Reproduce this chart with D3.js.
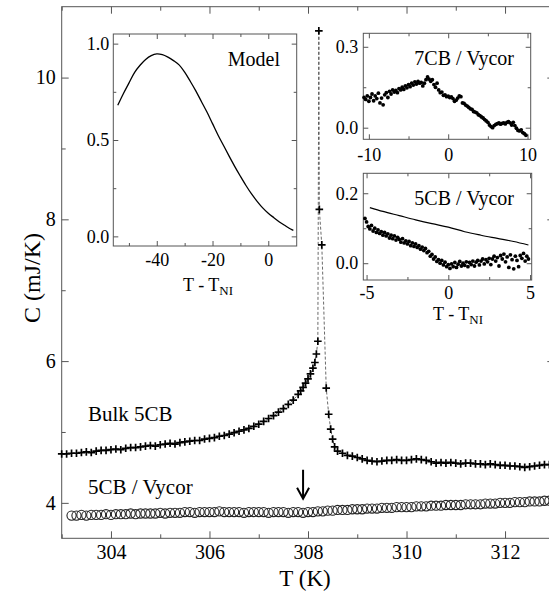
<!DOCTYPE html>
<html>
<head>
<meta charset="utf-8">
<script src="https://cdn.jsdelivr.net/npm/d3@7"></script>
<style>
  body { margin: 0; background: #fff; }
  svg text { font-family: 'Liberation Serif', 'Times New Roman', Times, 'DejaVu Serif', 'Noto Serif', serif; fill: #000; }
</style>
</head>
<body>
<svg id="chart" width="549" height="592"></svg>
<script>
// ---- main panel: bulk 5CB (crosses) ----
var bulkT = [303.0,303.1,303.2,303.3,303.4,303.5,303.6,303.7,303.8,303.9,
  304.0,304.1,304.2,304.3,304.4,304.5,304.6,304.7,304.8,304.9,
  305.0,305.1,305.2,305.3,305.4,305.5,305.6,305.7,305.8,305.9,
  306.0,306.1,306.2,306.3,306.4,306.5,306.6,306.7,306.8,306.9,
  307.0,307.1,307.2,307.3,307.4,307.5,307.6,307.7,307.8,307.85,307.9,307.95,
  308.0,308.05,308.1,308.14,308.17,308.2,308.22,308.23,308.28,
  308.37,308.42,308.46,308.5,308.54,308.6,308.7,
  308.8,308.9,309.0,309.1,309.2,309.3,309.4,309.5,309.6,309.7,309.8,309.9,
  310.0,310.1,310.2,310.3,310.4,310.5,310.6,310.7,310.8,310.9,
  311.0,311.1,311.2,311.3,311.4,311.5,311.6,311.7,311.8,311.9,
  312.0,312.1,312.2,312.3,312.4,312.5,312.6,312.7,312.8,312.9,313.0];
var bulkC = [4.69,4.69,4.70,4.70,4.71,4.72,4.71,4.73,4.74,4.74,
  4.75,4.76,4.75,4.77,4.78,4.78,4.79,4.80,4.81,4.80,
  4.82,4.83,4.84,4.83,4.85,4.86,4.87,4.88,4.88,4.90,
  4.91,4.92,4.94,4.95,4.97,4.99,5.01,5.03,5.05,5.08,
  5.11,5.15,5.19,5.23,5.28,5.33,5.39,5.45,5.53,5.58,5.63,5.69,
  5.75,5.82,5.90,5.98,6.10,6.28,10.66,8.14,7.64,
  5.62,5.25,5.04,4.90,4.79,4.73,4.70,
  4.67,4.66,4.64,4.62,4.60,4.59,4.58,4.59,4.60,4.60,4.61,4.60,
  4.60,4.61,4.62,4.61,4.60,4.58,4.56,4.57,4.56,4.57,
  4.56,4.55,4.56,4.56,4.55,4.55,4.54,4.55,4.54,4.53,
  4.53,4.52,4.52,4.51,4.50,4.51,4.52,4.53,4.54,4.54,4.53];

// ---- main panel: 5CB in Vycor (open circles) ----
var vycorT = [303.2,303.3,303.4,303.5,303.6,303.7,303.8,303.9,
  304.0,304.1,304.2,304.3,304.4,304.5,304.6,304.7,304.8,304.9,
  305.0,305.1,305.2,305.3,305.4,305.5,305.6,305.7,305.8,305.9,
  306.0,306.1,306.2,306.3,306.4,306.5,306.6,306.7,306.8,306.9,
  307.0,307.1,307.2,307.3,307.4,307.5,307.6,307.7,307.8,307.9,
  308.0,308.1,308.2,308.3,308.4,308.5,308.6,308.7,308.8,308.9,
  309.0,309.1,309.2,309.3,309.4,309.5,309.6,309.7,309.8,309.9,
  310.0,310.1,310.2,310.3,310.4,310.5,310.6,310.7,310.8,310.9,
  311.0,311.1,311.2,311.3,311.4,311.5,311.6,311.7,311.8,311.9,
  312.0,312.1,312.2,312.3,312.4,312.5,312.6,312.7,312.8,312.9,313.0];
var vycorC = [3.82,3.82,3.83,3.82,3.83,3.83,3.83,3.84,
  3.83,3.84,3.84,3.84,3.85,3.84,3.85,3.85,3.85,3.85,
  3.86,3.85,3.86,3.86,3.86,3.87,3.87,3.86,3.87,3.87,
  3.87,3.87,3.88,3.87,3.87,3.87,3.87,3.86,3.87,3.87,
  3.87,3.87,3.86,3.87,3.87,3.87,3.86,3.87,3.87,3.86,
  3.87,3.87,3.88,3.88,3.89,3.89,3.90,3.90,3.90,3.91,
  3.91,3.91,3.92,3.92,3.92,3.93,3.93,3.93,3.94,3.94,
  3.94,3.94,3.95,3.95,3.95,3.96,3.96,3.96,3.97,3.97,
  3.97,3.97,3.98,3.98,3.98,3.98,3.99,3.99,3.99,4.00,
  4.00,4.00,4.01,4.01,4.01,4.02,4.02,4.02,4.03,4.03,4.03];

// ---- inset: model curve ----
var modelT = [-54,-52,-50,-48,-46,-44,-42,-40,-38,-36,-34,-32,-30,-28,-26,-24,-22,-20,
  -18,-16,-14,-12,-10,-8,-6,-4,-2,0,2,4,6,8,9];
var modelV = [0.68,0.74,0.795,0.85,0.888,0.918,0.938,0.947,0.943,0.93,0.912,0.89,0.852,0.805,0.755,0.70,0.645,0.585,
  0.525,0.47,0.415,0.362,0.312,0.264,0.22,0.182,0.148,0.12,0.097,0.075,0.056,0.038,0.031];

// ---- inset: 7CB / Vycor ----
var cb7T = [-10.6,-10.4,-10.2,-10.0,-9.8,-9.6,-9.4,-9.2,-9.0,-8.8,-8.6,-8.4,-8.2,-8.0,
  -7.8,-7.6,-7.4,-7.2,-7.0,-6.8,-6.6,-6.4,-6.2,-6.0,-5.8,-5.6,-5.4,-5.2,-5.0,
  -4.8,-4.6,-4.4,-4.2,-4.0,-3.8,-3.6,-3.4,-3.2,-3.0,-2.8,-2.6,-2.4,-2.2,-2.0,
  -1.8,-1.6,-1.4,-1.2,-1.0,-0.8,-0.6,-0.4,-0.2,0.0,0.2,0.4,0.6,0.8,1.0,
  1.2,1.4,1.6,1.8,2.0,2.2,2.4,2.6,2.8,3.0,3.2,3.4,3.6,3.8,4.0,
  4.2,4.4,4.6,4.8,5.0,5.2,5.4,5.6,5.8,6.0,6.2,6.4,6.6,6.8,7.0,
  7.2,7.4,7.6,7.8,8.0,8.2,8.4,8.6,8.8,9.0,9.2,9.4,9.6,9.8];
var cb7V = [0.112,0.105,0.118,0.098,0.112,0.125,0.100,0.118,0.108,0.128,0.092,0.110,0.085,0.122,
  0.130,0.112,0.135,0.125,0.140,0.132,0.138,0.130,0.145,0.140,0.150,0.142,0.155,0.148,0.160,
  0.152,0.165,0.158,0.170,0.162,0.172,0.165,0.168,0.155,0.165,0.178,0.188,0.180,0.172,0.178,
  0.160,0.150,0.165,0.140,0.130,0.132,0.120,0.122,0.115,0.117,0.112,0.114,0.108,0.098,0.102,
  0.110,0.118,0.115,0.092,0.090,0.084,0.080,0.075,0.070,0.068,0.060,0.058,0.055,0.048,0.045,
  0.040,0.036,0.030,0.025,0.020,0.010,0.004,0.000,0.008,0.012,0.015,0.018,0.013,0.016,0.018,
  0.014,0.020,0.022,0.018,0.010,0.020,0.008,-0.002,-0.010,-0.012,-0.008,-0.018,-0.022,-0.028];

// ---- inset: 5CB / Vycor dots and model line ----
var cb5T = [-5.1,-5.0,-4.9,-4.8,-4.7,-4.6,-4.5,-4.4,-4.3,-4.2,-4.1,-4.0,-3.9,-3.8,-3.7,-3.6,-3.5,
  -3.4,-3.3,-3.2,-3.1,-3.0,-2.9,-2.8,-2.7,-2.6,-2.5,-2.4,-2.3,-2.2,-2.1,-2.0,-1.9,-1.8,
  -1.7,-1.6,-1.5,-1.4,-1.3,-1.2,-1.1,-1.0,-0.9,-0.8,-0.7,-0.6,-0.5,-0.4,-0.3,-0.2,-0.1,
  0.0,0.1,0.2,0.3,0.4,0.5,0.6,0.7,0.8,0.9,1.0,1.1,1.2,1.3,1.4,1.5,1.6,1.7,1.8,1.9,
  2.0,2.1,2.2,2.3,2.4,2.5,2.6,2.7,2.8,2.9,3.0,3.1,3.2,3.3,3.4,3.5,3.6,3.7,3.8,3.9,
  4.0,4.1,4.2,4.3,4.4,4.5,4.6,4.7,4.8,4.9];
var cb5V = [0.128,0.118,0.105,0.098,0.108,0.092,0.100,0.088,0.095,0.085,0.090,0.080,0.088,0.078,0.084,0.072,0.080,
  0.070,0.078,0.066,0.074,0.068,0.060,0.070,0.058,0.064,0.055,0.062,0.050,0.058,0.048,0.055,0.045,0.050,
  0.040,0.046,0.036,0.042,0.030,0.034,0.020,0.025,0.012,0.018,0.005,0.010,0.000,0.008,-0.005,0.003,-0.010,
  -0.004,-0.015,-0.002,-0.010,0.002,-0.012,-0.003,0.005,-0.008,0.000,-0.006,0.004,-0.010,0.002,-0.004,0.006,-0.008,0.003,0.008,-0.005,
  0.006,0.012,-0.002,0.010,0.004,0.014,-0.004,0.012,0.020,0.006,0.016,-0.008,0.022,0.012,0.026,0.004,0.018,-0.012,0.024,0.010,
  -0.016,0.020,0.008,-0.010,0.022,0.014,0.028,0.006,0.020,0.012];
var cb5LineT = [-4.8,-4,-3,-2,-1,0,1,2,3,4,4.9];
var cb5LineV = [0.159,0.148,0.136,0.124,0.113,0.103,0.090,0.080,0.071,0.062,0.052];

// ---- drawing ----
var svg = d3.select("#chart");
var LINE = "#555";
var SERIF = "'Liberation Serif', 'Times New Roman', Times, 'DejaVu Serif', 'Noto Serif', serif";

svg.append("rect").attr("width", 549).attr("height", 592).attr("fill", "#fff");

// boxed axes with inward ticks on all four sides
function drawFrame(g, x, y, o) {
  var xr = x.range(), yr = y.range();
  g.append("rect")
    .attr("x", xr[0]).attr("y", yr[1])
    .attr("width", xr[1] - xr[0]).attr("height", yr[0] - yr[1])
    .attr("fill", o.fill || "none").attr("stroke", LINE).attr("stroke-width", 1);

  function ax(axis, tr, vals, size, fmt, pad) {
    var a = g.append("g").attr("transform", tr)
      .call(axis.tickValues(vals).tickSize(-size).tickSizeOuter(0).tickPadding(pad || 3)
        .tickFormat(fmt || ""));
    a.attr("font-family", SERIF).attr("font-size", o.fontSize);
    a.select(".domain").remove();
    a.selectAll("line").attr("stroke", LINE);
    a.selectAll("text").attr("fill", "#000");
    return a;
  }
  var bt = "translate(0," + yr[0] + ")", tp = "translate(0," + yr[1] + ")";
  var lf = "translate(" + xr[0] + ",0)", rt = "translate(" + xr[1] + ",0)";
  ax(d3.axisBottom(x), bt, o.xMajor, o.major, o.xFmt, o.xPad);
  ax(d3.axisBottom(x), bt, o.xMinor, o.minor);
  ax(d3.axisTop(x), tp, o.xMajor, o.major);
  ax(d3.axisTop(x), tp, o.xMinor, o.minor);
  ax(d3.axisLeft(y), lf, o.yMajor, o.major, o.yFmt, o.yPad);
  ax(d3.axisLeft(y), lf, o.yMinor, o.minor);
  ax(d3.axisRight(y), rt, o.yMajor, o.major);
  ax(d3.axisRight(y), rt, o.yMinor, o.minor);
}

function txtFmt(d) { return String(d); }
function subTitle(g, cx, baseline) {
  var t = g.append("text").attr("x", cx).attr("y", baseline)
    .attr("text-anchor", "middle").attr("font-size", 18);
  t.append("tspan").text("T - T");
  t.append("tspan").attr("font-size", 13).attr("dy", 4).text("NI");
}

// main axes
var x = d3.scaleLinear().domain([303, 313]).range([61.7, 554.3]);
var y = d3.scaleLinear().domain([3.5, 11]).range([538.3, 6.7]);
var gMain = svg.append("g");
drawFrame(gMain, x, y, {
  xMajor: [304, 306, 308, 310, 312], xMinor: [303, 305, 307, 309, 311, 313],
  yMajor: [4, 6, 8, 10], yMinor: [5, 7, 9],
  major: 7, minor: 4, fontSize: 20, xPad: 7, yPad: 6, xFmt: txtFmt, yFmt: txtFmt
});

// dashed connecting line through the bulk points
gMain.append("path")
  .datum(d3.zip(bulkT, bulkC))
  .attr("fill", "none").attr("stroke", "#444").attr("stroke-width", 0.8)
  .attr("stroke-dasharray", "3,2")
  .attr("d", d3.line().x(function (d) { return x(d[0]); }).y(function (d) { return y(d[1]); }));

gMain.selectAll("path.cross")
  .data(d3.zip(bulkT, bulkC)).enter().append("path")
  .attr("class", "cross")
  .attr("transform", function (d) { return "translate(" + x(d[0]) + "," + y(d[1]) + ")"; })
  .attr("d", "M-3.8,0H3.8M0,-3.8V3.8")
  .attr("stroke", "#000").attr("stroke-width", 1.7);

gMain.selectAll("circle.vy")
  .data(d3.zip(vycorT, vycorC)).enter().append("circle")
  .attr("class", "vy")
  .attr("cx", function (d) { return x(d[0]); })
  .attr("cy", function (d) { return y(d[1]); })
  .attr("r", 4.6).attr("fill", "none").attr("stroke", "#222").attr("stroke-width", 1.1);

// arrow marking the transition in Vycor
var ax0 = x(307.9), ay0 = y(4.467), ay1 = y(4.058);
gMain.append("path")
  .attr("d", "M" + ax0 + "," + ay0 + "V" + ay1 + "M" + (ax0 - 6) + "," + (ay1 - 11) + "L" + ax0 + "," + ay1 + "L" + (ax0 + 6) + "," + (ay1 - 11))
  .attr("fill", "none").attr("stroke", "#000").attr("stroke-width", 2);

gMain.append("text").attr("x", 88).attr("y", 421).attr("font-size", 21).text("Bulk 5CB");
gMain.append("text").attr("x", 88).attr("y", 494).attr("font-size", 21).text("5CB / Vycor");

gMain.append("text").attr("x", 305).attr("y", 586).attr("text-anchor", "middle")
  .attr("font-size", 23).text("T (K)");
gMain.append("text").attr("transform", "translate(40,278) rotate(-90)")
  .attr("text-anchor", "middle").attr("font-size", 24).text("C (mJ/K)");

// inset: model
var xm = d3.scaleLinear().domain([-55.6, 10.2]).range([113.3, 296.7]);
var ym = d3.scaleLinear().domain([-0.05, 1.05]).range([246, 34]);
var gM = svg.append("g");
drawFrame(gM, xm, ym, {
  fill: "#fff",
  xMajor: [-40, -20, 0], xMinor: [-50, -30, -10],
  yMajor: [0, 0.5, 1], yMinor: [0.25, 0.75],
  major: 5, minor: 3, fontSize: 18, xPad: 7, yPad: 4,
  xFmt: txtFmt, yFmt: d3.format(".1f")
});
gM.append("path").datum(d3.zip(modelT, modelV))
  .attr("fill", "none").attr("stroke", "#000").attr("stroke-width", 1.3)
  .attr("d", d3.line().curve(d3.curveCatmullRom)
    .x(function (d) { return xm(d[0]); }).y(function (d) { return ym(d[1]); }));
gM.append("text").attr("x", 280).attr("y", 66).attr("text-anchor", "end")
  .attr("font-size", 20).text("Model");
subTitle(gM, 208, 291);

// inset: 7CB / Vycor
var x7 = d3.scaleLinear().domain([-10.7, 10.4]).range([363.3, 530.7]);
var y7 = d3.scaleLinear().domain([-0.043, 0.35]).range([139.3, 33.3]);
var g7 = svg.append("g");
drawFrame(g7, x7, y7, {
  fill: "#fff",
  xMajor: [-10, 0, 10], xMinor: [-5, 5],
  yMajor: [0, 0.3], yMinor: [0.15],
  major: 5, minor: 3, fontSize: 18, xPad: 9, yPad: 5,
  xFmt: txtFmt, yFmt: d3.format(".1f")
});
g7.selectAll("circle.d7").data(d3.zip(cb7T, cb7V)).enter().append("circle")
  .attr("class", "d7")
  .attr("cx", function (d) { return x7(d[0]); })
  .attr("cy", function (d) { return y7(d[1]); })
  .attr("r", 1.9).attr("fill", "#000");
g7.append("text").attr("x", 514).attr("y", 65).attr("text-anchor", "end")
  .attr("font-size", 20).text("7CB / Vycor");

// inset: 5CB / Vycor
var x5 = d3.scaleLinear().domain([-5.2, 5.1]).range([363.3, 531.7]);
var y5 = d3.scaleLinear().domain([-0.048, 0.257]).range([280, 173.3]);
var g5 = svg.append("g");
drawFrame(g5, x5, y5, {
  fill: "#fff",
  xMajor: [-5, 0, 5], xMinor: [-2.5, 2.5],
  yMajor: [0, 0.2], yMinor: [0.1],
  major: 5, minor: 3, fontSize: 18, xPad: 6, yPad: 5,
  xFmt: txtFmt, yFmt: d3.format(".1f")
});
g5.append("path").datum(d3.zip(cb5LineT, cb5LineV))
  .attr("fill", "none").attr("stroke", "#000").attr("stroke-width", 1.2)
  .attr("d", d3.line().curve(d3.curveMonotoneX)
    .x(function (d) { return x5(d[0]); }).y(function (d) { return y5(d[1]); }));
g5.selectAll("circle.d5").data(d3.zip(cb5T, cb5V)).enter().append("circle")
  .attr("class", "d5")
  .attr("cx", function (d) { return x5(d[0]); })
  .attr("cy", function (d) { return y5(d[1]); })
  .attr("r", 1.9).attr("fill", "#000");
g5.append("text").attr("x", 514).attr("y", 205).attr("text-anchor", "end")
  .attr("font-size", 20).text("5CB / Vycor");
subTitle(g5, 458, 320);
</script>
</body>
</html>
